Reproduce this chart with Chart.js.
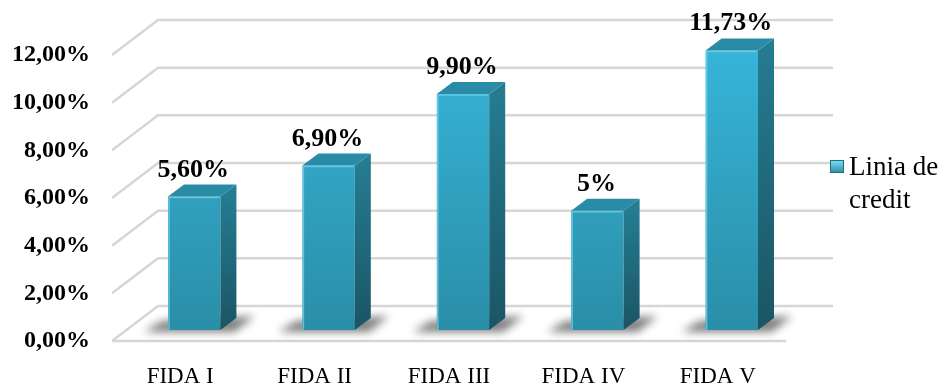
<!DOCTYPE html>
<html>
<head>
<meta charset="utf-8">
<script src="https://cdn.jsdelivr.net/npm/chart.js@4.4.1/dist/chart.umd.min.js"></script>
<style>
  html, body { margin: 0; padding: 0; background: #fff; }
  #wrap { position: relative; width: 944px; height: 389px; }
</style>
</head>
<body>
<div id="wrap"><canvas id="fidaChart"></canvas></div>
<script>
const categories = ['FIDA I', 'FIDA II', 'FIDA III', 'FIDA IV', 'FIDA V'];
const rates = [5.6, 6.9, 9.9, 5, 11.73];
const rateLabels = ['5,60%', '6,90%', '9,90%', '5%', '11,73%'];
const yTicks = [0, 2, 4, 6, 8, 10, 12];
const seriesName = ['Linia de', 'credit'];

// 3d look: offsets of the back wall and of the bar depth, relative to the bar plane
const wall = { dx: 31, dy: -24 };
const front = { dx: -15, dy: 11 };
const depth = { dx: 16, dy: -12 };

const fakeThreeD = {
  id: 'fakeThreeD',
  beforeDatasetsDraw(chart) {
    const { ctx, chartArea: area, scales: { y } } = chart;
    ctx.save();
    ctx.strokeStyle = '#d6d6d6';
    ctx.lineWidth = 2.5;
    yTicks.forEach(v => {
      const py = y.getPixelForValue(v);
      ctx.beginPath();
      ctx.moveTo(area.left + front.dx, py + front.dy);
      ctx.lineTo(area.left + wall.dx, py + wall.dy);
      ctx.lineTo(area.right + wall.dx + 3, py + wall.dy);
      ctx.stroke();
    });
    const p0 = y.getPixelForValue(0);
    ctx.beginPath();
    ctx.moveTo(area.left + front.dx, p0 + front.dy);
    ctx.lineTo(area.right - 13, p0 + front.dy);
    ctx.stroke();

    // soft shadows on the floor
    const meta = chart.getDatasetMeta(0);
    ctx.filter = 'blur(4px)';
    ctx.fillStyle = 'rgba(40,40,40,0.6)';
    meta.data.forEach(bar => {
      const l = bar.x - bar.width / 2, r = bar.x + bar.width / 2, b = bar.base;
      ctx.beginPath();
      ctx.moveTo(l - 24, b + 2);
      ctx.lineTo(l - 6, b - 9);
      ctx.lineTo(r + 34, b - 14);
      ctx.lineTo(r + 14, b + 2);
      ctx.closePath();
      ctx.fill();
    });
    ctx.filter = 'none';
    ctx.restore();
  },
  afterDatasetsDraw(chart) {
    const { ctx } = chart;
    const meta = chart.getDatasetMeta(0);
    ctx.save();
    meta.data.forEach((bar, i) => {
      const l = bar.x - bar.width / 2, r = bar.x + bar.width / 2;
      const t = bar.y, b = bar.base;

      const side = ctx.createLinearGradient(0, t, 0, b);
      side.addColorStop(0, '#257b90');
      side.addColorStop(1, '#1a5565');
      ctx.fillStyle = side;
      ctx.beginPath();
      ctx.moveTo(r, t);
      ctx.lineTo(r + depth.dx, t + depth.dy);
      ctx.lineTo(r + depth.dx, b + depth.dy);
      ctx.lineTo(r, b);
      ctx.closePath();
      ctx.fill();

      ctx.fillStyle = '#2a8ba6';
      ctx.beginPath();
      ctx.moveTo(l, t);
      ctx.lineTo(l + depth.dx, t + depth.dy);
      ctx.lineTo(r + depth.dx, t + depth.dy);
      ctx.lineTo(r, t);
      ctx.closePath();
      ctx.fill();

      // small bevel highlight on the front face
      ctx.strokeStyle = 'rgba(120,215,240,0.7)';
      ctx.lineWidth = 1.5;
      ctx.beginPath();
      ctx.moveTo(l + 1, b);
      ctx.lineTo(l + 1, t + 1);
      ctx.lineTo(r - 1, t + 1);
      ctx.stroke();

      ctx.fillStyle = '#000';
      ctx.font = 'bold 26px "Liberation Serif", "Times New Roman", serif';
      ctx.textAlign = 'center';
      ctx.textBaseline = 'alphabetic';
      ctx.fillText(rateLabels[i], bar.x - 1, t - 20);
    });
    ctx.restore();
  },
  afterDraw(chart) {
    const { ctx } = chart;
    ctx.save();
    const g = ctx.createLinearGradient(0, 160, 0, 173);
    g.addColorStop(0, '#7fe0f5');
    g.addColorStop(1, '#2a8fa8');
    ctx.fillStyle = g;
    ctx.fillRect(830, 160, 14, 13);
    ctx.strokeStyle = '#1f6e80';
    ctx.lineWidth = 1;
    ctx.strokeRect(830.5, 160.5, 13, 12);
    ctx.fillStyle = '#000';
    ctx.font = '27px "Liberation Serif", "Times New Roman", serif';
    ctx.textAlign = 'left';
    ctx.textBaseline = 'alphabetic';
    ctx.fillText(seriesName[0], 849, 175);
    ctx.fillText(seriesName[1], 849, 208);
    ctx.restore();
  }
};

const chartRef = document.getElementById('fidaChart');
const ctx = chartRef.getContext('2d');

new Chart(ctx, {
  type: 'bar',
  data: {
    labels: categories,
    datasets: [{
      label: seriesName.join(' '),
      data: rates,
      backgroundColor: (c) => {
        const area = c.chart.chartArea;
        if (!area) return '#33a6c8';
        const grad = c.chart.ctx.createLinearGradient(0, area.top, 0, area.bottom);
        grad.addColorStop(0, '#37b5da');
        grad.addColorStop(1, '#2a8ea7');
        return grad;
      },
      borderWidth: 0,
      barPercentage: 0.39,
      categoryPercentage: 1
    }]
  },
  options: {
    responsive: true,
    maintainAspectRatio: false,
    animation: false,
    layout: { padding: { left: 0, right: 145, top: 44, bottom: 0 } },
    plugins: {
      legend: { display: false },
      tooltip: { enabled: false }
    },
    scales: {
      x: {
        grid: { display: false, drawTicks: false },
        border: { display: false },
        ticks: {
          color: '#000',
          font: { family: '"Liberation Serif", "Times New Roman", serif', size: 23 },
          labelOffset: -14,
          padding: 33,
          maxRotation: 0
        },
        afterFit: (scale) => { scale.height = 59; }
      },
      y: {
        min: 0,
        max: 12,
        grid: { display: false, drawTicks: false },
        border: { display: false },
        afterBuildTicks: (scale) => { scale.ticks = yTicks.map(v => ({ value: v })); },
        ticks: {
          color: '#000',
          font: { family: '"Liberation Serif", "Times New Roman", serif', size: 24, weight: 'bold' },
          labelOffset: 11,
          padding: 37,
          callback: (v) => v.toFixed(2).replace('.', ',') + '%'
        },
        afterFit: (scale) => {
          scale.width = 127;
          scale.paddingTop = 0;
          scale.paddingBottom = 0;
        }
      }
    }
  },
  plugins: [fakeThreeD]
});
</script>
</body>
</html>
